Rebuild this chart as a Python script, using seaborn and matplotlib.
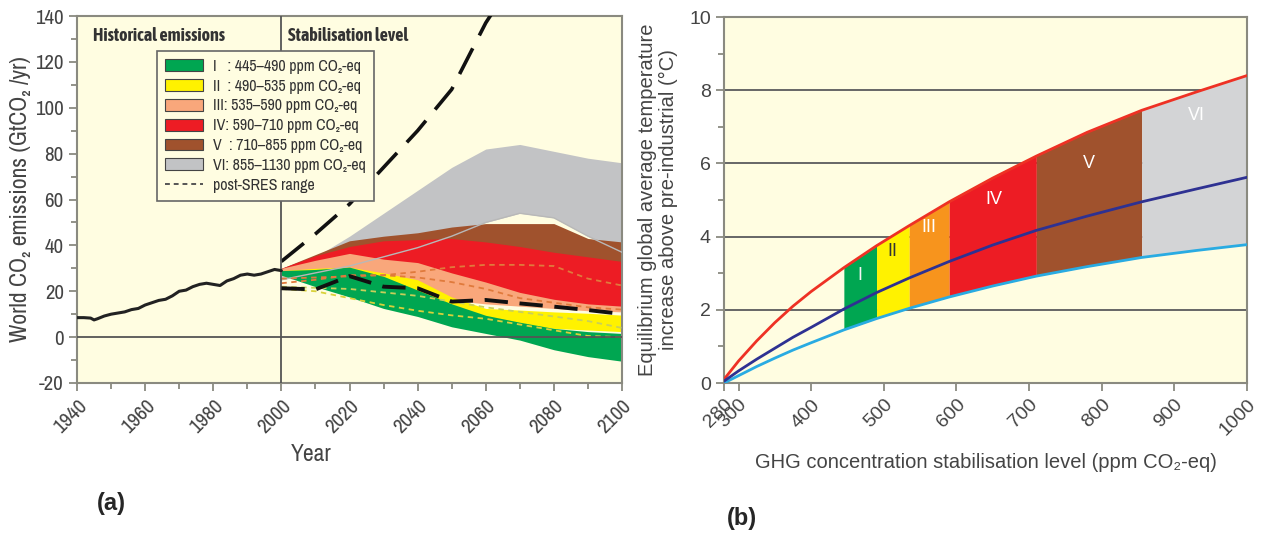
import numpy as np
import pandas as pd
import matplotlib
matplotlib.use("Agg")
import matplotlib.pyplot as plt
import seaborn as sns
from matplotlib.patches import Patch
from matplotlib.lines import Line2D
from matplotlib.ticker import MultipleLocator

# ---------------- Panel (a) data ----------------
hist_years = [1940, 1942, 1944, 1945, 1946, 1948, 1950, 1952, 1954, 1956, 1958, 1960,
              1962, 1964, 1966, 1968, 1970, 1972, 1974, 1976, 1978, 1980, 1982, 1984,
              1986, 1988, 1990, 1992, 1994, 1996, 1998, 2000]
hist_emis = [8.5, 8.5, 8.3, 7.5, 8.0, 9.2, 10.0, 10.5, 11.0, 12.0, 12.5, 14.0,
             15.0, 16.0, 16.5, 18.0, 20.0, 20.5, 22.0, 23.0, 23.5, 23.0, 22.5, 24.5,
             25.5, 27.0, 27.5, 27.0, 27.5, 28.5, 29.5, 29.0]

years = [2000, 2010, 2020, 2030, 2040, 2050, 2060, 2070, 2080, 2090, 2100]
cat_VI_high = [30, 35, 44, 54, 64, 74, 82, 84, 81, 78, 76]
cat_VI_low = [25, 28, 31, 35, 39, 44, 50, 54, 52, 44, 37]
cat_V_high = [30, 36, 42, 44, 45.5, 48, 49.5, 49.5, 49.5, 43, 41.5]
cat_V_low = [29, 31, 34, 36, 37, 37, 36, 34, 32, 30, 28]
cat_IV_high = [30, 35.5, 39.5, 42, 42.5, 43, 41.5, 39.5, 37, 35, 33]
cat_IV_low = [28, 28, 29, 27, 25, 22, 19, 16, 14, 13, 12]
cat_III_high = [30, 33.5, 36.5, 34, 32.5, 28, 24, 19.5, 16.5, 14.5, 13.5]
cat_III_low = [27, 26, 25.5, 24, 21, 16, 14.5, 13.5, 12.5, 11.5, 11]
cat_II_high = [29, 30, 30.5, 28, 25, 17.5, 12.5, 11.8, 11, 10.4, 9.6]
cat_II_low = [27, 23, 20, 17, 14, 10, 7, 5, 3.8, 3.1, 2.4]
cat_I_high = [29, 29.5, 30.5, 26.5, 20.5, 14.5, 9.5, 6.5, 3.8, 2.4, 1.6]
cat_I_low = [27, 22, 17.5, 12.5, 9, 4.5, 1.6, -1.3, -5.5, -8.5, -10.5]

sres_high_years = [2000, 2010, 2020, 2030, 2040, 2050, 2060, 2070]
sres_high = [33, 45, 58, 74, 90, 108, 137, 160]
sres_low = [21.3, 20.8, 26.6, 22, 21.3, 15.5, 16.2, 14.7, 13.3, 11.8, 10.1]

post_sres_1 = [25.5, 26, 26.5, 27, 28.5, 30.5, 31.5, 31.5, 31, 25.5, 22.5]
post_sres_2 = [23.5, 25, 27, 27, 26, 24, 21, 17, 15, 13, 12]
post_sres_3 = [22, 21.5, 21, 19.5, 18, 15.5, 13, 11, 9, 7, 4]
post_sres_4 = [21, 20, 17, 14, 11.5, 9.5, 8, 5.5, 3, 0.5, 0]

cat_labels = ["I   : 445–490 ppm CO₂-eq", "II  : 490–535 ppm CO₂-eq",
              "III: 535–590 ppm CO₂-eq", "IV: 590–710 ppm CO₂-eq",
              "V  : 710–855 ppm CO₂-eq", "VI: 855–1130 ppm CO₂-eq"]

# ---------------- Panel (b) data ----------------
conc = [280, 300, 325, 350, 375, 400, 445, 490, 535, 590, 650, 710, 780, 855, 930, 1000]
temp_high = [0.1, 0.6, 1.15, 1.65, 2.1, 2.5, 3.15, 3.75, 4.3, 4.95, 5.6, 6.2, 6.85, 7.45, 7.95, 8.4]
temp_best = [0.05, 0.33, 0.65, 0.95, 1.25, 1.52, 2.02, 2.47, 2.87, 3.32, 3.77, 4.17, 4.56, 4.95, 5.3, 5.62]
temp_low = [0.0, 0.2, 0.45, 0.68, 0.9, 1.1, 1.45, 1.76, 2.04, 2.35, 2.65, 2.92, 3.18, 3.43, 3.62, 3.78]
band_edges = [445, 490, 535, 590, 710, 855, 1000]
band_names = ["I", "II", "III", "IV", "V", "VI"]

# ---------------- style ----------------
sns.set_theme(style="ticks")
narrow = ["Archivo Narrow", "DejaVu Sans"]
narrow_bold = ["Asap Condensed", "DejaVu Sans"]
regular = ["Liberation Sans", "DejaVu Sans"]
plt.rcParams["font.family"] = regular
plt.rcParams["axes.unicode_minus"] = False

BG = "#FFFDE1"
SPINE = "#8a8a80"
TXT = "#444444"

col_a = {"I": "#00A651", "II": "#FFF200", "III": "#F9A77B", "IV": "#ED1C24",
         "V": "#A0522D", "VI": "#C2C3C5"}
col_b = {"I": "#00A651", "II": "#FFF200", "III": "#F7941D", "IV": "#ED1C24",
         "V": "#A0522D", "VI": "#D3D4D6"}

fig = plt.figure(figsize=(12.68, 5.33), dpi=100)
fig.patch.set_facecolor("white")
ax1 = fig.add_axes([77 / 1268, 1 - 383 / 533, (622 - 77) / 1268, (383 - 16) / 533])
ax2 = fig.add_axes([724 / 1268, 1 - 383 / 533, (1247 - 724) / 1268, (383 - 17) / 533])

for ax in (ax1, ax2):
    ax.set_facecolor(BG)
    for s in ax.spines.values():
        s.set_color(SPINE)
        s.set_linewidth(1.5)
    ax.tick_params(which="both", direction="out", color=SPINE, width=1.3, labelcolor=TXT)
    ax.tick_params(which="major", length=6)
    ax.tick_params(which="minor", length=4)

# ---------------- Panel (a) ----------------
ax1.set_xlim(1940, 2100)
ax1.set_ylim(-20, 140)

bands_a = [("VI", cat_VI_low, cat_VI_high), ("V", cat_V_low, cat_V_high),
           ("IV", cat_IV_low, cat_IV_high), ("III", cat_III_low, cat_III_high),
           ("II", cat_II_low, cat_II_high), ("I", cat_I_low, cat_I_high)]
for i, (name, lo, hi) in enumerate(bands_a):
    ax1.fill_between(years, lo, hi, color=col_a[name], lw=0, zorder=2 + i * 0.1)
# lower edge of category VI shows as thin grey line
sns.lineplot(x=years, y=cat_VI_low, ax=ax1, color="#B8B8B8", lw=1.0, zorder=2.9)

ax1.axhline(0, color="#555555", lw=1.3, zorder=4)
ax1.axvline(2000, color="#555555", lw=1.3, zorder=4)

sns.lineplot(x=hist_years, y=hist_emis, ax=ax1, color="#222222", lw=2.2, zorder=5)

for ys, c in [(post_sres_1, "#E07A3C"), (post_sres_2, "#E07A3C"),
              (post_sres_3, "#C9CF5A"), (post_sres_4, "#D9D13A")]:
    sns.lineplot(x=years, y=ys, ax=ax1, color=c, lw=1.3, linestyle=(0, (3, 2.5)), zorder=3.5)

sns.lineplot(x=sres_high_years, y=sres_high, ax=ax1, color="#111111", lw=2.6,
             linestyle=(0, (8, 4)), zorder=3)
sns.lineplot(x=years, y=sres_low, ax=ax1, color="#111111", lw=2.8,
             linestyle=(0, (6, 3)), zorder=5)

ax1.set_xticks(np.arange(1940, 2101, 20))
ax1.set_yticks(np.arange(-20, 141, 20))
ax1.xaxis.set_minor_locator(MultipleLocator(10))
ax1.yaxis.set_minor_locator(MultipleLocator(10))
for lab in ax1.get_xticklabels():
    lab.set_rotation(45)
    lab.set_ha("right")
    lab.set_rotation_mode("anchor")
    lab.set_family(narrow)
    lab.set_fontsize(15)
for lab in ax1.get_yticklabels():
    lab.set_family(narrow)
    lab.set_fontsize(15)

ax1.set_ylabel("World CO₂ emissions (GtCO₂ /yr)", fontsize=17, color=TXT,
               family=narrow, labelpad=3)
ax1.set_xlabel("Year", fontsize=17, color=TXT, family=narrow)
ax1.xaxis.set_label_coords(0.43, -0.165)

ax1.text(0.03, 0.945, "Historical emissions", transform=ax1.transAxes, fontsize=13,
         fontweight="bold", color="#333333", family=narrow_bold, va="center", ha="left")
ax1.text(0.388, 0.945, "Stabilisation level", transform=ax1.transAxes, fontsize=13,
         fontweight="bold", color="#333333", family=narrow_bold, va="center", ha="left")

handles = [Patch(facecolor=col_a[n], edgecolor="#444444", lw=0.8)
           for n in ["I", "II", "III", "IV", "V", "VI"]]
handles.append(Line2D([0], [0], color="#555555", lw=1.4, linestyle=(0, (2.5, 2))))
labels = cat_labels + ["post-SRES range"]
leg = ax1.legend(handles, labels, loc="upper left", bbox_to_anchor=(0.147, 0.905),
                 borderaxespad=0,
                 frameon=True, fancybox=False, framealpha=1, facecolor=BG,
                 edgecolor="#666666", prop={"family": narrow, "size": 11.5},
                 handlelength=2.4, handleheight=0.75, labelspacing=0.3,
                 borderpad=0.5, handletextpad=0.6)
leg.get_frame().set_linewidth(1.2)
leg.set_zorder(10)
for t in leg.get_texts():
    t.set_color("#333333")

# ---------------- Panel (b) ----------------
ax2.set_xlim(280, 1000)
ax2.set_ylim(0, 10)
for yv in [2, 4, 6, 8]:
    ax2.axhline(yv, color="#666666", lw=1.4, zorder=1)

conc_arr = np.array(conc)
hi_arr = np.array(temp_high)
lo_arr = np.array(temp_low)
for k, name in enumerate(band_names):
    m = (conc_arr >= band_edges[k]) & (conc_arr <= band_edges[k + 1])
    ax2.fill_between(conc_arr[m], lo_arr[m], hi_arr[m], color=col_b[name], lw=0, zorder=2)

df_b = pd.DataFrame({"conc": conc, "high": temp_high, "best": temp_best, "low": temp_low})
sns.lineplot(data=df_b, x="conc", y="high", ax=ax2, color="#EE3124", lw=2.0, zorder=4)
sns.lineplot(data=df_b, x="conc", y="low", ax=ax2, color="#29ABE2", lw=2.0, zorder=4)
sns.lineplot(data=df_b, x="conc", y="best", ax=ax2, color="#2E3192", lw=2.0, zorder=5)

band_text = [("I", 467, 2.95, "#f4f4f4"), ("II", 512, 3.6, "#333333"),
             ("III", 562, 4.25, "white"), ("IV", 652, 5.0, "white"),
             ("V", 783, 6.0, "white"), ("VI", 930, 7.3, "white")]
for t, xv, yv, c in band_text:
    ax2.text(xv, yv, t, ha="center", va="center", fontsize=13, color=c, zorder=6)

ax2.set_xticks([280, 300, 400, 500, 600, 700, 800, 900, 1000])
ax2.set_yticks([0, 2, 4, 6, 8, 10])
ax2.yaxis.set_minor_locator(MultipleLocator(1))
for lab in ax2.get_xticklabels():
    lab.set_rotation(45)
    lab.set_ha("right")
    lab.set_rotation_mode("anchor")
    lab.set_fontsize(14)
for lab in ax2.get_yticklabels():
    lab.set_fontsize(14)

ax2.set_ylabel("Equilibrium global average temperature\nincrease above pre-industrial (°C)",
               fontsize=14.5, color=TXT, labelpad=8, linespacing=1.1)
ax2.set_xlabel("GHG concentration stabilisation level (ppm CO₂-eq)", fontsize=14.5,
               color=TXT, labelpad=10)

fig.text(0.088, 0.056, "(a)", fontsize=17, fontweight="bold", ha="center", va="center")
fig.text(0.585, 0.028, "(b)", fontsize=17, fontweight="bold", ha="center", va="center")

fig.savefig("out.png", dpi=100, facecolor="white")
